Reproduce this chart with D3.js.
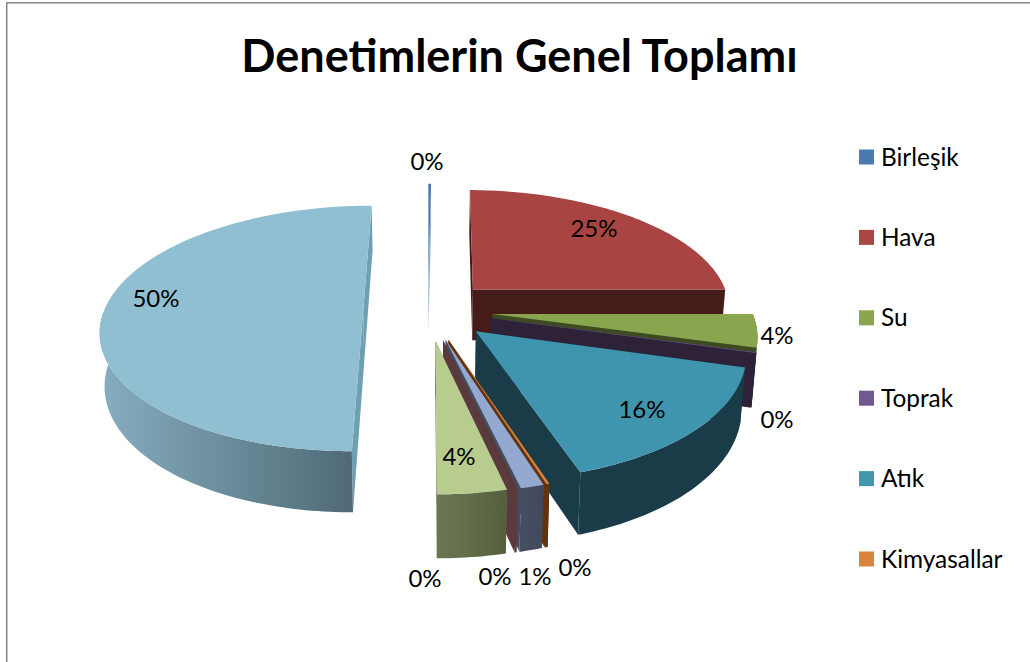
<!DOCTYPE html>
<html>
<head>
<meta charset="utf-8">
<script src="https://cdn.jsdelivr.net/npm/d3@7"></script>
<style>
body { margin: 0; background: #fff; }
text { font-family: Lato, "Open Sans", sans-serif; fill: #000; }
</style>
</head>
<body>
<div id="container"></div>
<script>
// slice values in percent, clockwise from 12 o'clock
var values = [0.2, 24.8, 4.3, 0.1, 15.6, 0.15, 1.2, 0.1, 3.55, 0, 50];
var legendNames = ["Birleşik", "Hava", "Su", "Toprak", "Atık", "Kimyasallar"];
var legendColors = ["#4a7ab0", "#aa4644", "#89a54e", "#71588f", "#4198af", "#db843d"];

// colours of each slice: top face, cut faces, outer wall (left and right end)
var topColors = ["#4a7ab0", "#a84442", "#89a54e", "#71588f", "#3f95ae", "#db843d", "#93a9cf", "#5a3a3c", "#b9cc90", "#a9c0d8", "#90bfd2"];
var cutColors = ["#8fb0d2", "#451c1a", "#3e4a22", "#2d2238", "#1a3c48", "#63330f", "#444c60", "#5a3a3c", "#5f6a47", "#6f9fb2", "#6f9fb2"];
var wallLeft = ["#8fb0d2", "#451c1a", "#3e4a22", "#2d2238", "#1a3c48", "#63330f", "#474f65", "#5a3a3c", "#6c7752", "#6f9fb2", "#86aec0"];
var wallRight = ["#8fb0d2", "#451c1a", "#3e4a22", "#2d2238", "#1a3c48", "#63330f", "#414859", "#5a3a3c", "#555f3e", "#6f9fb2", "#4f6a76"];

// where the data labels sit (centre of text), same order as values
var labelX = [427, 594, 777, 777, 642, 575, 535, 495, 459, 425, 156];
var labelY = [162, 229, 336, 420, 410, 568, 577, 577, 457, 579, 299];

var width = 1030, height = 662;

// perspective pie settings
var pieCx = 428, pieCy = 310;
var radiusX = 259, radiusY = 120;
var persp = 0.15;      // foreshortening with distance
var explode = 0.25;    // every slice pulled out by the same share of the radius
var depth = 52;        // height of the pie
var shrink = 0.985;    // bottom face is slightly further from the eye

var svg = d3.select("#container").append("svg")
	.attr("width", width)
	.attr("height", height)
	.style("display", "block");

var defs = svg.append("defs");

// chart frame, runs off the right and bottom of the picture
svg.append("path")
	.attr("d", "M6.75," + height + "V2.75H" + width)
	.attr("fill", "none")
	.attr("stroke", "#868686")
	.attr("stroke-width", 1.5);

svg.append("text")
	.attr("x", 519.5)
	.attr("y", 72)
	.attr("text-anchor", "middle")
	.style("font-size", "45px")
	.style("font-weight", "700")
	.text("Denetimlerin Genel Toplamı");

// disc coordinates (unit radius, Y pointing away) to screen
function topPoint(p) {
	var s = 1 / (1 + persp * p[1]);
	return [pieCx + radiusX * p[0] * s, pieCy - radiusY * p[1] * s];
}
function bottomPoint(p) {
	var s = 1 / (1 + persp * p[1]);
	var t = topPoint(p);
	return [pieCx + (t[0] - pieCx) * shrink, t[1] + depth * s];
}

var line = d3.line();

var pie = d3.pie().sort(null).value(function(d) { return d; });
var slices = pie(values).map(function(d, i) {
	var mid = (d.startAngle + d.endAngle) / 2;
	var apex = [explode * Math.sin(mid), explode * Math.cos(mid)];
	var steps = Math.max(2, Math.ceil((d.endAngle - d.startAngle) / 0.02));
	var angles = d3.range(steps + 1).map(function(k) {
		return d.startAngle + (d.endAngle - d.startAngle) * k / steps;
	});
	var rim = angles.map(function(a) {
		return [apex[0] + Math.sin(a), apex[1] + Math.cos(a)];
	});
	// only the part of the rim that faces the viewer gets a wall
	var front = angles.filter(function(a) { return Math.cos(a) <= 0; }).map(function(a) {
		return [apex[0] + Math.sin(a), apex[1] + Math.cos(a)];
	});
	return {index: i, apex: apex, rim: rim, front: front};
});

// back to front
var drawOrder = slices.slice().sort(function(a, b) { return b.apex[1] - a.apex[1]; });

function quad(a, b) {
	return line([topPoint(a), topPoint(b), bottomPoint(b), bottomPoint(a)]) + "Z";
}

drawOrder.forEach(function(s) {
	var i = s.index;
	var g = svg.append("g").attr("class", "slice");
	var first = s.rim[0], last = s.rim[s.rim.length - 1];

	// the two cut faces
	g.append("path").attr("d", quad(s.apex, first)).attr("fill", cutColors[i]);
	g.append("path").attr("d", quad(s.apex, last)).attr("fill", cutColors[i]);

	// outer wall, shaded from left to right
	var rimTop = s.rim.map(topPoint);
	if (s.front.length > 1) {
		var wallTop = s.front.map(topPoint);
		var wallBottom = s.front.map(bottomPoint).reverse();
		var xs = d3.extent(wallTop, function(d) { return d[0]; });
		var grad = defs.append("linearGradient")
			.attr("id", "wall" + i)
			.attr("gradientUnits", "userSpaceOnUse")
			.attr("x1", xs[0]).attr("x2", xs[1] + 1)
			.attr("y1", 0).attr("y2", 0);
		grad.append("stop").attr("offset", 0).attr("stop-color", wallLeft[i]);
		grad.append("stop").attr("offset", 1).attr("stop-color", wallRight[i]);

		g.append("path")
			.attr("d", line(wallTop.concat(wallBottom)) + "Z")
			.attr("fill", "url(#wall" + i + ")");
	}

	// top face
	g.append("path")
		.attr("d", line([topPoint(s.apex)].concat(rimTop)) + "Z")
		.attr("fill", topColors[i]);
});

// data labels
var pct = d3.format(".0%");
svg.selectAll(".label")
	.data(values).enter()
	.append("text")
		.attr("class", "label")
		.attr("x", function(d, i) { return labelX[i]; })
		.attr("y", function(d, i) { return labelY[i]; })
		.attr("dy", ".35em")
		.style("text-anchor", "middle")
		.style("font-size", "24px")
		.text(function(d) { return pct(d / 100); });

// legend
var legendY = d3.scalePoint().domain(legendNames).range([157, 559]);

var legend = svg.selectAll(".legend")
	.data(legendNames).enter()
	.append("g")
		.attr("class", "legend")
		.attr("transform", function(d) { return "translate(859," + legendY(d) + ")"; });

legend.append("rect")
	.attr("y", -7.5)
	.attr("width", 15)
	.attr("height", 15)
	.style("fill", function(d, i) { return legendColors[i]; });

legend.append("text")
	.attr("x", 22)
	.attr("dy", ".35em")
	.style("font-size", "24.4px")
	.text(function(d) { return d; });
</script>
</body>
</html>
